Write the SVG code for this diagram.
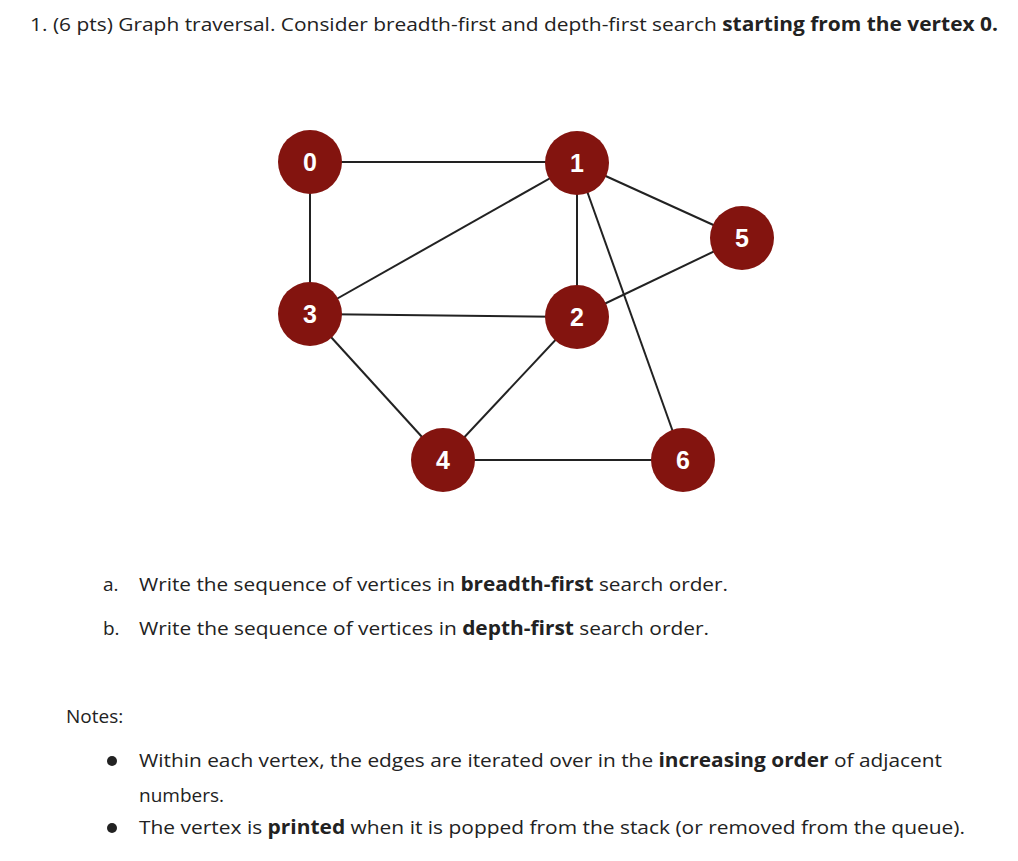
<svg xmlns="http://www.w3.org/2000/svg" width="1018" height="861" viewBox="0 0 1018 861">
<style>
.t{font-family:"Open Sans","Liberation Sans",sans-serif;font-size:19px;fill:#222}
.b{font-weight:bold}
.e{stroke:#222;stroke-width:2;fill:none}
.n circle{fill:#83140f}
.n text{font-family:"Liberation Sans",Arial,sans-serif;font-weight:bold;font-size:25px;fill:#fff;text-anchor:middle}
</style>
<rect width="1018" height="861" fill="#fff"/>
<text class="t" x="30" y="31" textLength="968" lengthAdjust="spacingAndGlyphs">1.  (6 pts) Graph traversal. Consider breadth-first and depth-first search <tspan class="b">starting from the vertex 0.</tspan></text>
<g id="connectors">
<line class="e" x1="310" y1="162" x2="577" y2="162"/>
<line class="e" x1="310" y1="162" x2="310" y2="314"/>
<line class="e" x1="310" y1="314" x2="577" y2="163"/>
<line class="e" x1="577" y1="163" x2="577" y2="317"/>
<line class="e" x1="577" y1="163" x2="742" y2="238"/>
<line class="e" x1="577" y1="163" x2="683" y2="460"/>
<line class="e" x1="310" y1="314" x2="577" y2="317"/>
<line class="e" x1="577" y1="317" x2="742" y2="238"/>
<line class="e" x1="310" y1="314" x2="443" y2="460"/>
<line class="e" x1="577" y1="317" x2="443" y2="460"/>
<line class="e" x1="443" y1="460" x2="683" y2="460"/>
</g>
<g id="n0" class="n"><circle cx="310" cy="162" r="32"/><text x="310" y="171">0</text></g>
<g id="n1" class="n"><circle cx="577" cy="163" r="32"/><text x="577" y="172">1</text></g>
<g id="n5" class="n"><circle cx="742" cy="238" r="32"/><text x="742" y="247">5</text></g>
<g id="n3" class="n"><circle cx="310" cy="314" r="32"/><text x="310" y="323">3</text></g>
<g id="n2" class="n"><circle cx="577" cy="317" r="32"/><text x="577" y="326">2</text></g>
<g id="n4" class="n"><circle cx="443" cy="460" r="32"/><text x="443" y="469">4</text></g>
<g id="n6" class="n"><circle cx="683" cy="460" r="32"/><text x="683" y="469">6</text></g>
<text class="t" x="103" y="591">a.</text>
<text class="t" x="139" y="591" textLength="589" lengthAdjust="spacingAndGlyphs">Write the sequence of vertices in <tspan class="b">breadth-first</tspan> search order.</text>
<text class="t" x="103" y="635">b.</text>
<text class="t" x="139" y="635" textLength="570" lengthAdjust="spacingAndGlyphs">Write the sequence of vertices in <tspan class="b">depth-first</tspan> search order.</text>
<text class="t" x="66" y="723">Notes:</text>
<circle cx="112" cy="761" r="5" fill="#222"/>
<text class="t" x="139" y="767" textLength="803" lengthAdjust="spacingAndGlyphs">Within each vertex, the edges are iterated over in the <tspan class="b">increasing order</tspan> of adjacent</text>
<text class="t" x="139" y="802">numbers.</text>
<circle cx="112" cy="828" r="5" fill="#222"/>
<text class="t" x="139" y="834" textLength="826" lengthAdjust="spacingAndGlyphs">The vertex is <tspan class="b">printed</tspan> when it is popped from the stack (or removed from the queue).</text>
</svg>
